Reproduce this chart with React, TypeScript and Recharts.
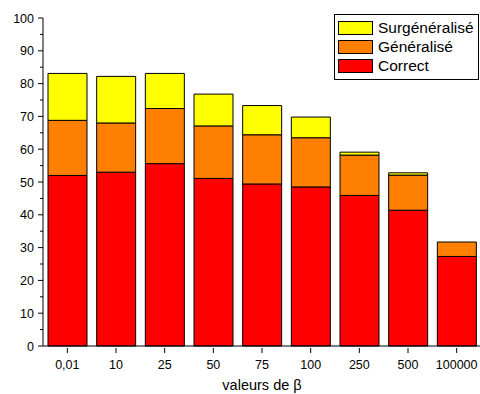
import { BarChart, Bar, XAxis, YAxis, Label } from 'recharts'

const betas = ['0,01', '10', '25', '50', '75', '100', '250', '500', '100000']
const correct = [52.0, 53.0, 55.6, 51.1, 49.4, 48.5, 45.9, 41.4, 27.3]
const generalise = [16.8, 15.0, 16.8, 16.0, 15.0, 15.0, 12.3, 10.7, 4.4]
const surgeneralise = [14.3, 14.2, 10.7, 9.7, 8.9, 6.3, 0.9, 0.7, 0]
const yTicks = [0, 5, 10, 15, 20, 25, 30, 35, 40, 45, 50, 55, 60, 65, 70, 75, 80, 85, 90, 95, 100]

const data = betas.map((b, i) => ({
  beta: b,
  correct: correct[i],
  generalise: generalise[i],
  surgeneralise: surgeneralise[i],
}))

const font = 'Arial, "Liberation Sans", sans-serif'

const legendItems = [
  { label: 'Surgénéralisé', color: '#ffff00' },
  { label: 'Généralisé', color: '#ff8000' },
  { label: 'Correct', color: '#ff0000' },
]

function YTick({ x, y, payload }: any) {
  const major = payload.value % 10 === 0
  return (
    <g>
      <line x1={x} x2={x - (major ? 5 : 3)} y1={y} y2={y} stroke="#000" strokeWidth={1} />
      {major && (
        <text x={x - 9} y={y} dy={4.5} textAnchor="end" fontSize={12.5} fill="#000" fontFamily={font}>
          {payload.value}
        </text>
      )}
    </g>
  )
}

function XTick({ x, y, payload }: any) {
  return (
    <g>
      <line x1={x} x2={x} y1={y} y2={y + 5} stroke="#000" strokeWidth={1} />
      <text x={x} y={y + 21} textAnchor="middle" fontSize={12.5} fill="#000" fontFamily={font}>
        {payload.value}
      </text>
    </g>
  )
}

function LegendBox() {
  return (
    <div style={{ position: 'absolute', left: 334, top: 14, border: '1px solid #000', background: '#fff', padding: '3px 0 3px 3px', fontFamily: font, fontSize: 15.5, width: 145, boxSizing: 'border-box' }}>
      {legendItems.map((it) => (
        <div key={it.label} style={{ display: 'flex', alignItems: 'center', height: 19.3, whiteSpace: 'nowrap' }}>
          <span style={{ width: 33, height: 12, background: it.color, border: '1px solid #000', marginRight: 5, display: 'inline-block', flexShrink: 0 }} />
          <span style={{ color: '#000' }}>{it.label}</span>
        </div>
      ))}
    </div>
  )
}

export default function App() {
  return (
    <div style={{ position: 'fixed', left: 0, top: 0, width: 480, height: 394, overflow: 'hidden', background: '#fff' }}>
      <BarChart
        width={482}
        height={394}
        data={data}
        margin={{ top: 18, right: 1, left: 0, bottom: 0 }}
        barSize={39}
      >
        <XAxis
          dataKey="beta"
          tickLine={false}
          tickSize={0}
          tick={<XTick />}
          axisLine={{ stroke: '#000' }}
          height={48}
          interval={0}
        >
          <Label value="valeurs de β" position="insideBottom" offset={4} fontSize={14.5} fill="#000" fontFamily={font} />
        </XAxis>
        <YAxis
          width={43}
          domain={[0, 100]}
          ticks={yTicks}
          interval={0}
          tickLine={false}
          tickSize={0}
          tickMargin={0}
          tick={<YTick />}
          axisLine={{ stroke: '#000' }}
        />
        <Bar dataKey="correct" stackId="s" fill="#ff0000" stroke="#000" strokeWidth={1} isAnimationActive={false} />
        <Bar dataKey="generalise" stackId="s" fill="#ff8000" stroke="#000" strokeWidth={1} isAnimationActive={false} />
        <Bar dataKey="surgeneralise" stackId="s" fill="#ffff00" stroke="#000" strokeWidth={1} isAnimationActive={false} />
      </BarChart>
      <LegendBox />
    </div>
  )
}
